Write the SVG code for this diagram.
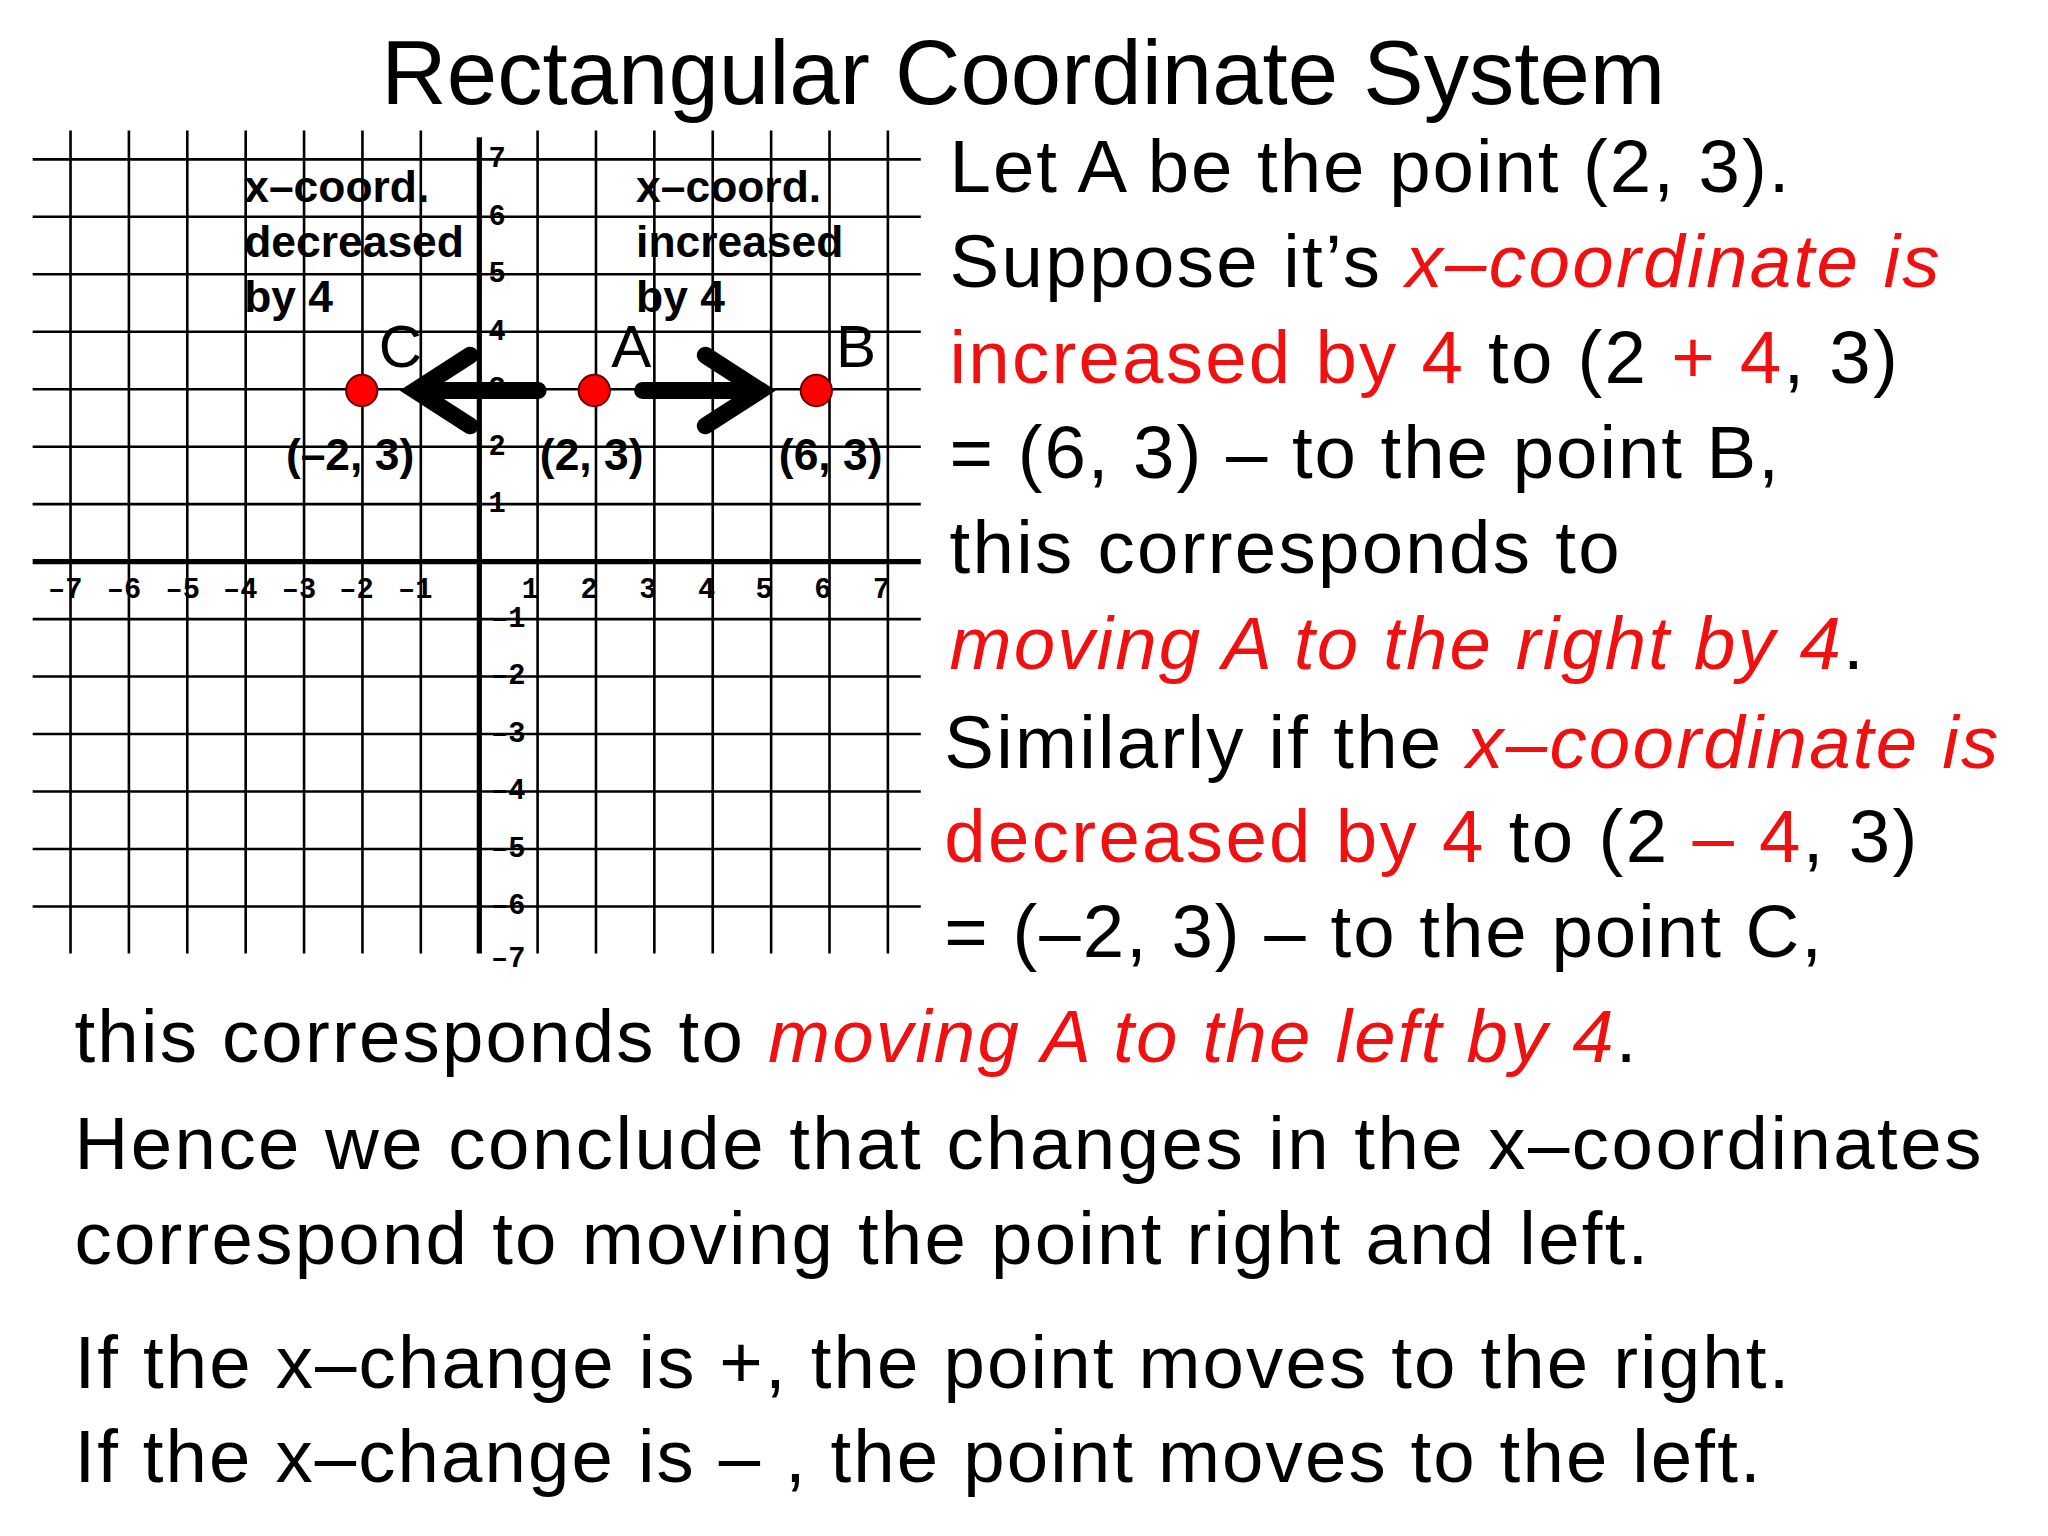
<svg xmlns="http://www.w3.org/2000/svg" width="2048" height="1536" viewBox="0 0 2048 1536">
<style>
.g{stroke:#000;stroke-width:2}
.t{font-family:"Liberation Sans",Arial,sans-serif;fill:#000}
.r{fill:#f01010}
.i{font-style:italic;fill:#f01010}
.b{font-family:"Liberation Sans",Arial,sans-serif;font-weight:bold;font-size:34px}
.k{font-family:"Liberation Mono","Courier New",monospace;font-weight:bold;font-size:22px}
.big{font-size:57px}
.pt{fill:#f00;stroke:#600;stroke-width:1.5}
.ar{fill:none;stroke:#000;stroke-width:13;stroke-linecap:round;stroke-linejoin:miter}
</style>
<rect width="2048" height="1536" fill="#fff"/>
<g transform="scale(1.3061)">
<text class="t" x="292" y="80" font-size="69" textLength="983" lengthAdjust="spacingAndGlyphs">Rectangular Coordinate System</text>
<g id="grid">
<g class="g">
<line x1="25" y1="122" x2="705" y2="122"/><line x1="25" y1="166" x2="705" y2="166"/><line x1="25" y1="210" x2="705" y2="210"/><line x1="25" y1="254" x2="705" y2="254"/><line x1="25" y1="298" x2="705" y2="298"/><line x1="25" y1="342" x2="705" y2="342"/><line x1="25" y1="386" x2="705" y2="386"/><line x1="25" y1="474" x2="705" y2="474"/><line x1="25" y1="518" x2="705" y2="518"/><line x1="25" y1="562" x2="705" y2="562"/><line x1="25" y1="606" x2="705" y2="606"/><line x1="25" y1="650" x2="705" y2="650"/><line x1="25" y1="694" x2="705" y2="694"/>
<line x1="54" y1="100" x2="54" y2="730"/><line x1="98.7" y1="100" x2="98.7" y2="730"/><line x1="143.4" y1="100" x2="143.4" y2="730"/><line x1="188.1" y1="100" x2="188.1" y2="730"/><line x1="232.8" y1="100" x2="232.8" y2="730"/><line x1="277.5" y1="100" x2="277.5" y2="730"/><line x1="322.2" y1="100" x2="322.2" y2="730"/><line x1="411.6" y1="100" x2="411.6" y2="730"/><line x1="456.3" y1="100" x2="456.3" y2="730"/><line x1="501" y1="100" x2="501" y2="730"/><line x1="545.7" y1="100" x2="545.7" y2="730"/><line x1="590.4" y1="100" x2="590.4" y2="730"/><line x1="635.1" y1="100" x2="635.1" y2="730"/><line x1="679.8" y1="100" x2="679.8" y2="730"/>
</g>
<line x1="25" y1="430" x2="705" y2="430" stroke="#000" stroke-width="4"/>
<line x1="367" y1="105" x2="367" y2="730" stroke="#000" stroke-width="4"/>
<g class="k" text-anchor="middle">
<text x="50" y="458">–7</text><text x="95" y="458">–6</text><text x="140" y="458">–5</text><text x="184" y="458">–4</text><text x="229" y="458">–3</text><text x="273" y="458">–2</text><text x="318" y="458">–1</text>
<text x="406" y="458">1</text><text x="451" y="458">2</text><text x="496" y="458">3</text><text x="541" y="458">4</text><text x="585" y="458">5</text><text x="630" y="458">6</text><text x="675" y="458">7</text>
</g>
<g class="k">
<text x="374" y="128">7</text><text x="374" y="172">6</text><text x="374" y="216">5</text><text x="374" y="260">4</text><text x="374" y="304">3</text><text x="374" y="348">2</text><text x="374" y="392">1</text>
<text x="376" y="480">–1</text><text x="376" y="524">–2</text><text x="376" y="568">–3</text><text x="376" y="612">–4</text><text x="376" y="656">–5</text><text x="376" y="700">–6</text><text x="376" y="740">–7</text>
</g>
</g>
<g id="labels" class="b">
<text x="187" y="155">x–coord.</text><text x="187" y="197">decreased</text><text x="187" y="239">by 4</text>
<text x="487" y="155">x–coord.</text><text x="487" y="197">increased</text><text x="487" y="239">by 4</text>
<text x="268" y="360" text-anchor="middle">(–2, 3)</text>
<text x="453" y="360" text-anchor="middle">(2, 3)</text>
<text x="636" y="360" text-anchor="middle">(6, 3)</text>
</g>
<g id="connectors">
<path class="ar" d="M412 299H330M360 272L318 299L360 326"/>
<path class="ar" d="M492 299H578M540 272L582 299L540 326"/>
</g>
<g id="C"><circle class="pt" cx="277" cy="299" r="12"/><text class="t" x="290" y="281" font-size="46">C</text></g>
<g id="A"><circle class="pt" cx="455" cy="299" r="12"/><text class="t" x="468" y="281" font-size="46">A</text></g>
<g id="B"><circle class="pt" cx="625" cy="299" r="12"/><text class="t" x="640" y="281" font-size="46">B</text></g>
<g class="t big" lengthAdjust="spacingAndGlyphs">
<text x="727" y="147" textLength="643">Let A be the point (2, 3).</text>
<text x="727" y="220" textLength="758">Suppose it’s <tspan class="i">x–coordinate is</tspan></text>
<text x="727" y="293" textLength="726"><tspan class="r">increased by 4</tspan> to (2 <tspan class="r">+ 4</tspan>, 3)</text>
<text x="727" y="366" textLength="635">= (6, 3) – to the point B,</text>
<text x="727" y="439" textLength="513">this corresponds to</text>
<text x="727" y="512" textLength="700"><tspan class="i">moving A to the right by 4</tspan>.</text>
<text x="723" y="588" textLength="807">Similarly if the <tspan class="i">x–coordinate is</tspan></text>
<text x="723" y="660" textLength="745"><tspan class="r">decreased by 4</tspan> to (2 <tspan class="r">– 4</tspan>, 3)</text>
<text x="723" y="733" textLength="672">= (–2, 3) – to the point C,</text>
<text x="57" y="813" textLength="1196">this corresponds to <tspan class="i">moving A to the left by 4</tspan>.</text>
<text x="57" y="895" textLength="1460">Hence we conclude that changes in the x–coordinates</text>
<text x="57" y="968" textLength="1205">correspond to moving the point right and left.</text>
<text x="57" y="1063" textLength="1313">If the x–change is +, the point moves to the right.</text>
<text x="57" y="1135" textLength="1291">If the x–change is – , the point moves to the left.</text>
</g>
</g>
</svg>
